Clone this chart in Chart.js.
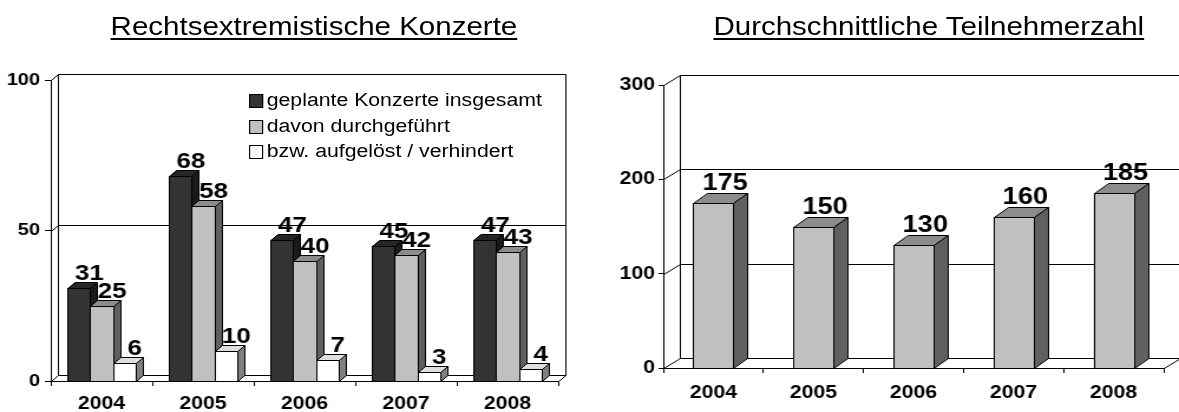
<!DOCTYPE html>
<html>
<head>
<meta charset="utf-8">
<script src="https://cdn.jsdelivr.net/npm/chart.js@4"></script>
<style>
  html, body { margin: 0; padding: 0; background: #fff; }
  body { width: 1179px; height: 412px; overflow: hidden; position: relative; }
  /* the original is horizontally stretched, so the whole stage is drawn narrower and scaled */
  #stage { position: absolute; left: 0; top: 0; width: 999px; height: 412px; transform: scaleX(1.18018); transform-origin: 0 0; font-family: "Liberation Sans", Arial, sans-serif; color: #000; }
  .box { position: absolute; top: 0; height: 412px; }
  .title { position: absolute; top: 14px; font-size: 25px; line-height: 25px; white-space: nowrap; transform: translateX(-50%); text-decoration: underline; text-decoration-thickness: 2px; text-underline-offset: 3px; }
  .legend { position: absolute; left: 211px; top: 88px; font-size: 18px; line-height: 25.5px; }
  .legend div { white-space: nowrap; }
  .legend span { display: inline-block; box-sizing: border-box; width: 12px; height: 14px; border: 1px solid #000; margin-right: 3px; vertical-align: -2px; }
</style>
</head>
<body>
<div id="stage">
  <div class="box" style="left:0;width:500px"><canvas id="konzerte"></canvas></div>
  <div class="box" style="left:500px;width:499px"><canvas id="teilnehmer"></canvas></div>
  <div class="title" id="titelLinks" style="left:266px"></div>
  <div class="title" id="titelRechts" style="left:787px"></div>
  <div class="legend" id="legende"></div>
</div>
<script>
const jahre = ['2004', '2005', '2006', '2007', '2008'];
const geplant = [31, 68, 47, 45, 47];
const durchgefuehrt = [25, 58, 40, 42, 43];
const aufgeloest = [6, 10, 7, 3, 4];
const teilnehmerzahl = [175, 150, 130, 160, 185];
const serien = ['geplante Konzerte insgesamt', 'davon durchgeführt', 'bzw. aufgelöst / verhindert'];
const titelLinks = 'Rechtsextremistische Konzerte';
const titelRechts = 'Durchschnittliche Teilnehmerzahl';

const FONT = '"Liberation Sans", Arial, sans-serif';
const FRONT = ['#333333', '#c0c0c0', '#ffffff'];
const TOP = ['#262626', '#8c8c8c', '#dedede'];
const SIDE = ['#1a1a1a', '#606060', '#808080'];

document.getElementById('titelLinks').textContent = titelLinks;
document.getElementById('titelRechts').textContent = titelRechts;
document.getElementById('legende').innerHTML = serien.map((s, i) =>
  `<div><span style="background:${FRONT[i]}"></span>${s}</div>`).join('');

const px = (v) => Math.round(v) + 0.5;

function poly(ctx, pts, fill) {
  ctx.beginPath();
  pts.forEach(([x, y], i) => (i ? ctx.lineTo(px(x), px(y)) : ctx.moveTo(px(x), px(y))));
  ctx.closePath();
  ctx.fillStyle = fill;
  ctx.fill();
  ctx.stroke();
}

// draws the back wall, then every bar as a box with top and side face
function quader(o) {
  return {
    id: 'quader',
    beforeDatasetsDraw(chart) {
      const { ctx, chartArea: a, scales: { y } } = chart;
      const wx = o.wallDx, wy = o.wallDy;
      ctx.save();
      ctx.strokeStyle = '#000';
      ctx.lineWidth = 1;
      ctx.beginPath();
      y.ticks.forEach((t) => {
        const py = y.getPixelForValue(t.value);
        ctx.moveTo(px(a.left), px(py));
        ctx.lineTo(px(a.left + wx), px(py + wy));
        ctx.lineTo(px(a.right + wx), px(py + wy));
      });
      ctx.moveTo(px(a.left + wx), px(a.top + wy));
      ctx.lineTo(px(a.left + wx), px(a.bottom + wy));
      ctx.moveTo(px(a.right + wx), px(a.top + wy));
      ctx.lineTo(px(a.right + wx), px(a.bottom + wy));
      ctx.lineTo(px(a.right), px(a.bottom));
      ctx.stroke();
      ctx.restore();
    },
    afterDatasetsDraw(chart) {
      const ctx = chart.ctx;
      const metas = chart.getSortedVisibleDatasetMetas().slice().sort((p, q) => p.index - q.index);
      const dx = o.dx, dy = o.dy;
      ctx.save();
      ctx.strokeStyle = '#000';
      ctx.lineWidth = 1;
      for (let i = 0; i < chart.data.labels.length; i++) {
        metas.forEach((m) => {
          const b = m.data[i], k = m.index;
          const L = b.x - b.width / 2, R = b.x + b.width / 2, T = b.y, B = b.base;
          poly(ctx, [[L, T], [R, T], [R, B], [L, B]], o.front[k]);
          poly(ctx, [[L, T], [L + dx, T + dy], [R + dx, T + dy], [R, T]], o.top[k]);
          poly(ctx, [[R, T], [R + dx, T + dy], [R + dx, B + dy], [R, B]], o.side[k]);
        });
      }
      ctx.fillStyle = '#000';
      ctx.font = `bold ${o.labelSize}px ${FONT}`;
      ctx.textAlign = 'center';
      ctx.textBaseline = 'alphabetic';
      metas.forEach((m) => {
        const werte = chart.data.datasets[m.index].data;
        m.data.forEach((b, i) => ctx.fillText(String(werte[i]), b.x + o.labelDx, b.y + dy - o.labelGap));
      });
      ctx.restore();
    }
  };
}

function achsen(max, step, yFont, yWidth, yTick, yPad, xFont, xHeight, xPad) {
  return {
    x: {
      grid: { offset: true, drawOnChartArea: false, color: '#000', tickLength: 5 },
      border: { color: '#000' },
      ticks: { color: '#000', font: { family: FONT, size: xFont, weight: 'bold' }, padding: xPad, maxRotation: 0 },
      afterFit: (s) => { s.height = xHeight; }
    },
    y: {
      min: 0, max,
      grid: { drawOnChartArea: false, color: '#000', tickLength: yTick },
      border: { color: '#000' },
      ticks: { stepSize: step, color: '#000', font: { family: FONT, size: yFont, weight: 'bold' }, padding: yPad },
      afterFit: (s) => { s.width = yWidth; }
    }
  };
}

const basis = { responsive: true, maintainAspectRatio: false, animation: false, events: [] };

new Chart(document.getElementById('konzerte'), {
  type: 'bar',
  data: {
    labels: jahre,
    datasets: [geplant, durchgefuehrt, aufgeloest].map((d, i) => ({
      label: serien[i], data: d, backgroundColor: FRONT[i], borderColor: '#000', borderWidth: 1,
      categoryPercentage: 0.67, barPercentage: 1
    }))
  },
  options: {
    ...basis,
    layout: { padding: { top: 80, right: 27, left: 0, bottom: 0 } },
    plugins: { legend: { display: false }, tooltip: { enabled: false } },
    scales: achsen(100, 50, 17, 43, 5, 4, 18, 31, 7)
  },
  plugins: [quader({ dx: 6, dy: -6, wallDx: 6, wallDy: -6, front: FRONT, top: TOP, side: SIDE, labelSize: 22, labelDx: 9, labelGap: 2 })]
});

new Chart(document.getElementById('teilnehmer'), {
  type: 'bar',
  data: {
    labels: jahre,
    datasets: [{
      label: titelRechts, data: teilnehmerzahl, backgroundColor: FRONT[1], borderColor: '#000', borderWidth: 1,
      categoryPercentage: 1, barPercentage: 0.4
    }]
  },
  options: {
    ...basis,
    layout: { padding: { top: 85, right: 13, left: 0, bottom: 0 } },
    plugins: { legend: { display: false }, tooltip: { enabled: false } },
    scales: achsen(300, 100, 18, 62, 4, 3, 18, 44, 9)
  },
  plugins: [quader({ dx: 12, dy: -10, wallDx: 13.5, wallDy: -10, front: [FRONT[1]], top: [TOP[1]], side: [SIDE[1]], labelSize: 23, labelDx: 10, labelGap: 3 })]
});
</script>
</body>
</html>
